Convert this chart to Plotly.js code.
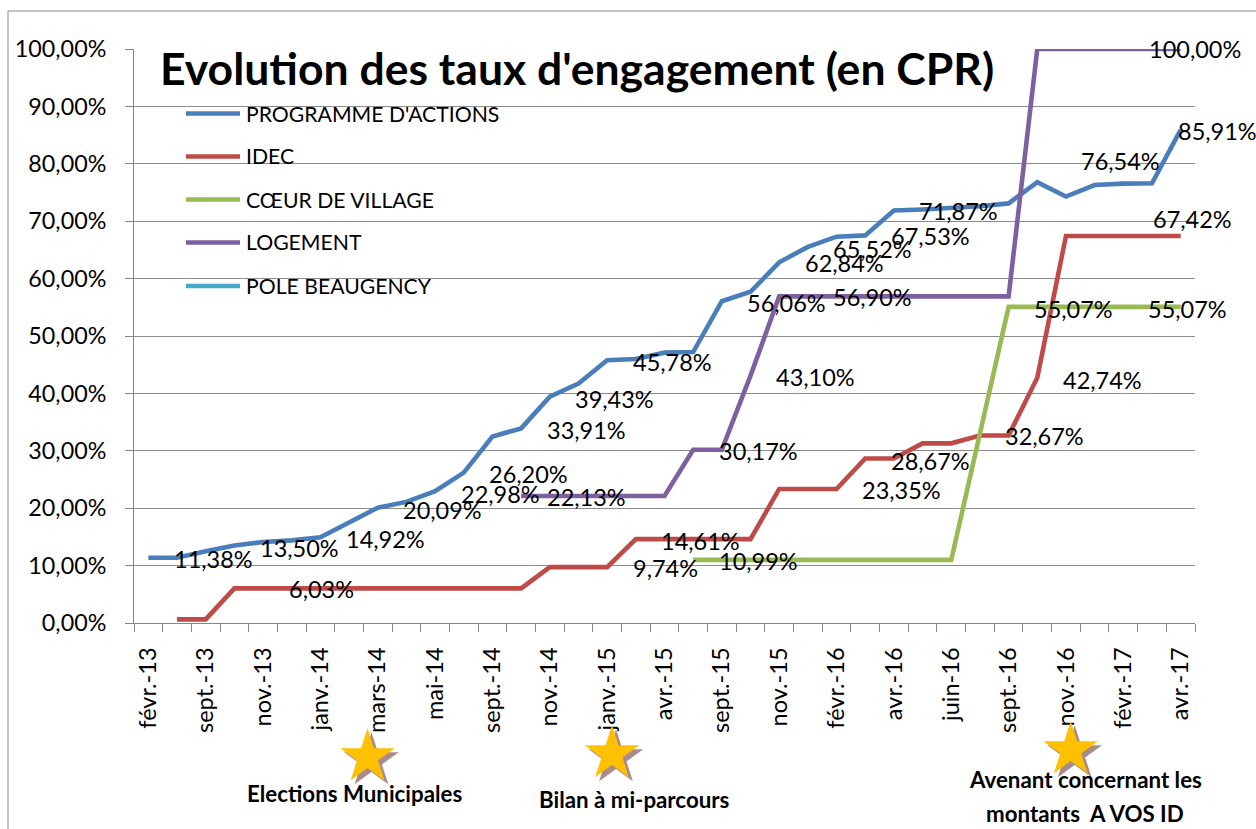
<!DOCTYPE html>
<html>
<head>
<meta charset="utf-8">
<script src="https://cdn.plot.ly/plotly-3.0.1.min.js"></script>
<style>
html,body{margin:0;padding:0;background:#fff;}
#chart{width:1256px;height:829px;}
</style>
</head>
<body>
<div id="chart"></div>
<script>
// ---------- DATA ----------
const tickLabels = ['févr.-13','sept.-13','nov.-13','janv.-14','mars-14','mai-14','sept.-14','nov.-14','janv.-15','avr.-15','sept.-15','nov.-15','févr.-16','avr.-16','juin-16','sept.-16','nov.-16','févr.-17','avr.-17'];
const nPoints = 37;

const programme = [11.38,11.38,12.5,13.50,14.1,14.4,14.92,17.6,20.09,21.1,22.98,26.20,32.5,33.91,39.43,41.7,45.78,46.0,47.1,47.2,56.06,57.7,62.84,65.52,67.3,67.53,71.87,72.05,72.25,72.6,73.1,76.8,74.3,76.3,76.54,76.6,85.91];
const idec = [null,0.64,0.64,6.03,6.03,6.03,6.03,6.03,6.03,6.03,6.03,6.03,6.03,6.03,9.74,9.74,9.74,14.61,14.61,14.61,14.61,14.61,23.35,23.35,23.35,28.67,28.67,31.3,31.3,32.67,32.67,42.74,67.42,67.42,67.42,67.42,67.42];
const coeur = [null,null,null,null,null,null,null,null,null,null,null,null,null,null,null,null,null,null,null,10.99,10.99,10.99,10.99,10.99,10.99,10.99,10.99,10.99,10.99,33.0,55.07,55.07,55.07,55.07,55.07,55.07,55.07];
const logement = [null,null,null,null,null,null,null,null,null,null,null,null,null,22.13,22.13,22.13,22.13,22.13,22.13,30.17,30.17,43.10,56.90,56.90,56.90,56.90,56.90,56.90,56.90,56.90,56.90,100,100,100,100,100,100];
const pole = new Array(nPoints).fill(null);

const seriesNames = ["PROGRAMME D'ACTIONS","IDEC","CŒUR DE VILLAGE","LOGEMENT","POLE BEAUGENCY"];
const yTickVals = [0,10,20,30,40,50,60,70,80,90,100];
const yTickText = ['0,00%','10,00%','20,00%','30,00%','40,00%','50,00%','60,00%','70,00%','80,00%','90,00%','100,00%'];

// labelled points: series index, point index
const labelSeries = [0,0,0,0,0,0,0,0,0,0,0,0,0,0,0,0, 1,1,1,1,1,1,1,1, 2,2,2, 3,3,3,3,3];
const labelIndex  = [0,3,6,8,10,11,13,14,16,20,22,23,25,26,34,36, 4,16,17,24,25,29,31,36, 19,30,36, 13,19,21,23,36];

// ---------- STYLE / LAYOUT ----------
const colors = ['#4A7EBB','#BE4B48','#98B954','#7D60A0','#46AAC5'];
const allSeries = [programme, idec, coeur, logement, pole];
// label offsets in pixels (left edge from point, vertical offset downward)
const labelDx = [24.5,24.5,24.5,24.5,24.5,24.5,24.5,24.5,24.5,24.5,24.5,24.5,24.5,24.5,-43,-3.5, 24.5,24.5,24.5,24.5,24.5,24.5,24.5,-29, 24.5,24.5,-33.5, 24.5,24.5,24.5,24.5,-32.5];
const labelDy = [1.6,2,1.9,2.6,3.2,1.4,2,2,1.8,2,0.7,1.7,1,0.5,-23,1, 0.9,0.5,1.5,1.3,2.6,0.8,1.9,-17, 1.1,2.4,2.4, 1,1.5,1.7,0.6,0.3];

const W = 1256, H = 829;
const mL = 134, mR = 61, mT = 49, mB = 206;
const pw = W - mL - mR, ph = H - mT - mB;
const PX = x => (x - mL) / pw;
const PY = y => (H - mB - y) / ph;

const FONT = 'Lato, "Open Sans", sans-serif';

function fmt(v){ return v.toFixed(2).replace('.', ',') + '%'; }

const xs = Array.from({length:nPoints}, (_, i) => i);
const traces = allSeries.map((s, k) => ({
  type:'scatter', mode:'lines', x: xs, y: s, name: seriesNames[k],
  line:{color:colors[k], width:4.6, shape:'linear'},
  connectgaps:false, showlegend:false, hoverinfo:'skip'
}));

const annotations = [];
for (let j = 0; j < labelSeries.length; j++) {
  const s = allSeries[labelSeries[j]];
  const i = labelIndex[j];
  annotations.push({
    xref:'x', yref:'y', x:i, y:s[i], text:fmt(s[i]), showarrow:false,
    xanchor:'left', yanchor:'middle', xshift:labelDx[j], yshift:-labelDy[j],
    font:{family:FONT, size:23.5, color:'#000'}, borderpad:0
  });
}

// title
annotations.push({
  xref:'paper', yref:'paper', x:PX(576.5), y:PY(68), xanchor:'center', yanchor:'middle',
  text:"<b>Evolution des taux d'engagement (en CPR)</b>", showarrow:false,
  font:{family:FONT, size:44.5, color:'#000'}
});

// legend
const legY = [113.5,156.5,199.5,242.5,286];
const shapes = [];
for (let k = 0; k < seriesNames.length; k++) {
  shapes.push({type:'line', xref:'paper', yref:'paper', x0:PX(186), x1:PX(240), y0:PY(legY[k]), y1:PY(legY[k]),
    line:{color:colors[k], width:4.6}});
  annotations.push({xref:'paper', yref:'paper', x:PX(244), y:PY(legY[k]), xanchor:'left', yanchor:'middle',
    text:seriesNames[k], showarrow:false, font:{family:FONT, size:21.2, color:'#000'}});
}

// chart frame
shapes.push({type:'rect', xref:'paper', yref:'paper', x0:PX(8), x1:PX(1275), y0:PY(11), y1:PY(850),
  line:{color:'#8a8a8a', width:1}, fillcolor:'rgba(0,0,0,0)', layer:'below'});

// stars
function starPath(cx, cy, R){
  let d = '';
  for (let k = 0; k < 10; k++) {
    const a = (-90 + 36*k) * Math.PI / 180;
    const r = (k % 2 === 0) ? R : R * 0.382;
    const x = PX(cx + r*Math.cos(a)), y = PY(cy + r*Math.sin(a));
    d += (k === 0 ? 'M' : 'L') + x.toFixed(5) + ',' + y.toFixed(5);
  }
  return d + 'Z';
}
const stars = [[367.5,757],[612,754],[1070.7,750]];
stars.forEach(([cx,cy]) => {
  shapes.push({type:'path', xref:'paper', yref:'paper', path:starPath(cx+4, cy+4, 28.7),
    fillcolor:'rgba(140,100,100,0.75)', line:{width:0}});
  shapes.push({type:'path', xref:'paper', yref:'paper', path:starPath(cx, cy, 28.7),
    fillcolor:'#FFC000', line:{width:0}});
});

// bottom texts
const notes = [["Elections Municipales",354,794],["Bilan à mi-parcours",634,799.6],["Avenant concernant les",1085,779.6],["montants\u00a0\u00a0A VOS ID",1085,813]];
notes.forEach(([t,x,y]) => annotations.push({xref:'paper', yref:'paper', x:PX(x), y:PY(y), xanchor:'center', yanchor:'middle',
  text:'<b>'+t+'</b>', showarrow:false, font:{family:FONT, size:22.3, color:'#000'}}));

const tickVals = tickLabels.map((_, k) => 2*k);
const minorVals = Array.from({length:nPoints+1}, (_, i) => i - 0.5);

const layout = {
  width:W, height:H,
  margin:{l:mL, r:mR, t:mT, b:mB, pad:0},
  paper_bgcolor:'#fff', plot_bgcolor:'#fff',
  showlegend:false,
  xaxis:{
    type:'linear', range:[-0.5, nPoints-0.5], tickmode:'array', tickvals:tickVals, ticktext:tickLabels,
    tickangle:-90, ticks:'', showgrid:false, zeroline:false, showline:true, linecolor:'#868686', linewidth:1,
    tickfont:{family:FONT, size:23.5, color:'#000'}, ticklabelstandoff:14,
    minor:{tickmode:'array', tickvals:minorVals, ticks:'outside', ticklen:8, tickcolor:'#868686', tickwidth:1, showgrid:false},
    fixedrange:true
  },
  yaxis:{
    range:[0,100], tickmode:'array', tickvals:yTickVals, ticktext:yTickText,
    ticks:'outside', ticklen:8, tickcolor:'#868686', tickwidth:1,
    showgrid:true, gridcolor:'#8c8c8c', gridwidth:1, zeroline:false,
    showline:true, linecolor:'#868686', linewidth:1,
    tickfont:{family:FONT, size:23.3, color:'#000'}, ticklabelstandoff:14,
    fixedrange:true
  },
  annotations:annotations,
  shapes:shapes
};

Plotly.newPlot('chart', traces, layout, {displayModeBar:false, staticPlot:true});
</script>
</body>
</html>
